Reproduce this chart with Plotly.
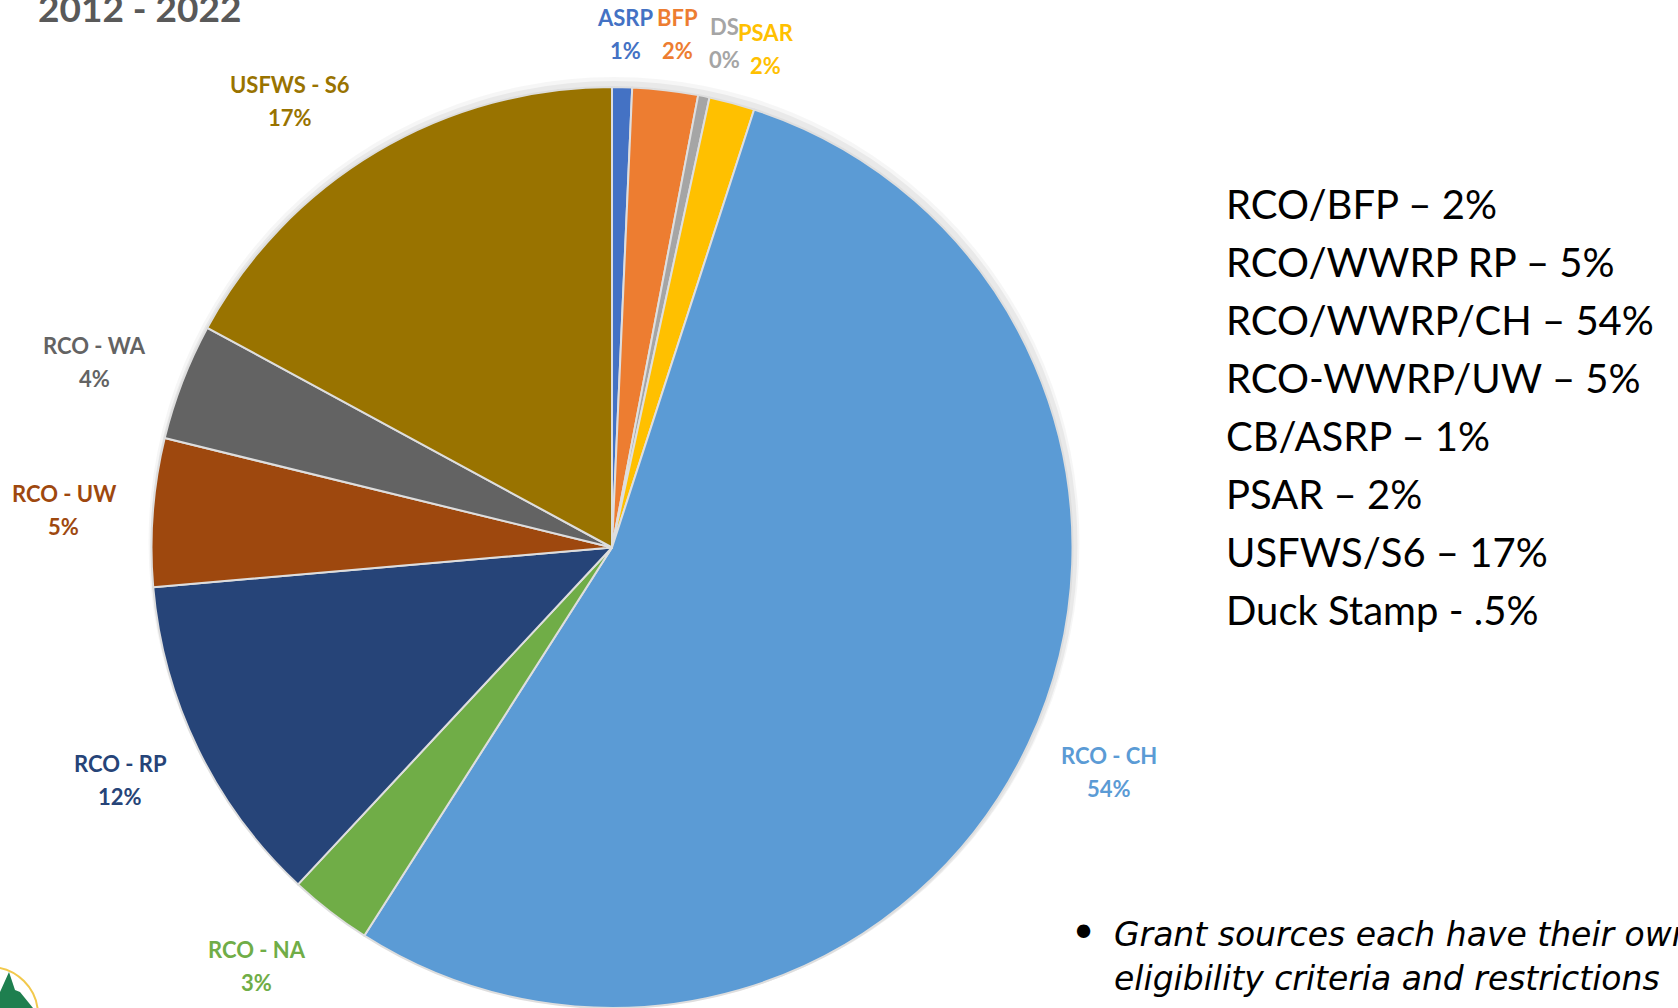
import math
import plotly.graph_objects as go

# ---------------- data ----------------
categories = ["ASRP", "BFP", "DS", "PSAR", "RCO - CH", "RCO - NA",
              "RCO - RP", "RCO - UW", "RCO - WA", "USFWS - S6"]
shares = [0.7, 2.3, 0.4, 1.6, 54.1, 2.9, 11.7, 5.2, 4.1, 17.1]
pct_labels = ["1%", "2%", "0%", "2%", "54%", "3%", "12%", "5%", "4%", "17%"]
colors = ["#4472C4", "#ED7D31", "#A5A5A5", "#FFC000", "#5B9BD5", "#70AD47",
          "#264478", "#9E480E", "#636363", "#997300"]

side_lines = ["RCO/BFP – 2%", "RCO/WWRP RP – 5%", "RCO/WWRP/CH – 54%",
              "RCO-WWRP/UW – 5%", "CB/ASRP – 1%", "PSAR – 2%",
              "USFWS/S6 – 17%", "Duck Stamp - .5%"]
note_lines = ["Grant sources each have their own",
              "eligibility criteria and restrictions"]
title_text = "2012 - 2022"

# ---------------- layout constants ----------------
W, H = 1678, 1008
CX, R = 612, 460.5            # pie centre x (px) and radius (px)
CY = H - R                     # pie centre y (px from top)
# label nudges (px) to mimic hand-placed labels
nudges = [(2, 2), (6, -1), (10, 1), (19, 0), (10, -6), (-34, 4),
          (-7, -4), (-16, 3), (-16, 8), (-56, 1)]

def px(x):
    return x / W

def py(y):
    return 1 - y / H

fig = go.Figure()

# soft shadow
for sh, a in ((5, 0.035), (3, 0.05)):
    fig.add_trace(go.Pie(
        values=[1], marker=dict(colors=[f"rgba(0,0,0,{a})"], line=dict(width=0)),
        textinfo="none", hoverinfo="skip", showlegend=False, sort=False,
        domain=dict(x=[px(CX - R - sh + 2), px(CX + R + sh + 2)],
                    y=[0, py(H - 2 * R - 2 * sh)]),
    ))

fig.add_trace(go.Pie(
    labels=categories, values=shares, sort=False, direction="clockwise",
    rotation=0,
    marker=dict(colors=colors, line=dict(color="#DEDEDE", width=2)),
    textinfo="none", hoverinfo="label+percent", showlegend=False,
    domain=dict(x=[px(CX - R), px(CX + R)], y=[0, py(H - 2 * R)]),
))

annotations = []
shapes = []

# data labels computed from slice mid-angles
total = sum(shares)
cum = 0.0
gap, half_h = 22, 33
for i, (name, v) in enumerate(zip(categories, shares)):
    mid = (cum + v / 2) / total * 2 * math.pi
    cum += v
    s, c = math.sin(mid), math.cos(mid)
    half_w = (len(name) * 11 + 14) / 2
    d = min(half_w / abs(s) if abs(s) > 1e-6 else 1e9,
            half_h / abs(c) if abs(c) > 1e-6 else 1e9)
    D = R + gap + d
    lx = CX + D * s + nudges[i][0]
    ly = CY - D * c + nudges[i][1]
    for txt, dy in ((name, -16.5), (pct_labels[i], 16.5)):
        annotations.append(dict(
            x=px(lx), y=py(ly + dy), xref="paper", yref="paper",
            text=f"<b>{txt}</b>", showarrow=False,
            xanchor="center", yanchor="middle",
            font=dict(family="Lato", size=22, color=colors[i]),
        ))

# right-hand list
for k, line in enumerate(side_lines):
    annotations.append(dict(
        x=px(1224), y=py(204 + k * 58), xref="paper", yref="paper",
        text=line, showarrow=False, xanchor="left", yanchor="middle",
        font=dict(family="Lato", size=40, color="#000000"),
    ))

# bullet note
annotations.append(dict(
    x=px(1083), y=py(933), xref="paper", yref="paper", text="•",
    showarrow=False, xanchor="center", yanchor="middle",
    font=dict(family="DejaVu Sans", size=46, color="#000000"),
))
for k, line in enumerate(note_lines):
    annotations.append(dict(
        x=px(1112), y=py(934 + k * 44), xref="paper", yref="paper",
        text=f"<i>{line}</i>", showarrow=False, xanchor="left", yanchor="middle",
        font=dict(family="DejaVu Sans", size=33, color="#000000"),
    ))

# partially visible title
annotations.append(dict(
    x=px(36), y=py(8), xref="paper", yref="paper",
    text=f"<b>{title_text}</b>", showarrow=False, xanchor="left", yanchor="middle",
    font=dict(family="Lato", size=37, color="#595959"),
))

# partial logo at bottom-left
shapes.append(dict(type="circle", xref="paper", yref="paper",
                   x0=px(-58), x1=px(38), y0=py(1063), y1=py(967),
                   fillcolor="white", line=dict(color="#F2C94C", width=2)))
shapes.append(dict(type="path", xref="paper", yref="paper",
                   path=(f"M {px(0)},{py(992)} L {px(9)},{py(972)} L {px(15)},{py(990)} "
                         f"L {px(20)},{py(992)} L {px(33)},{py(1008)} L {px(0)},{py(1008)} Z"),
                   fillcolor="#1E7F4F", line=dict(width=0)))

fig.update_layout(
    width=W, height=H,
    margin=dict(l=0, r=0, t=0, b=0),
    paper_bgcolor="white", plot_bgcolor="white",
    annotations=annotations, shapes=shapes,
    showlegend=False,
)

fig.write_html("out.html", config={"displayModeBar": False},
               post_script="document.body.style.margin='0px';document.body.style.overflow='hidden';")
